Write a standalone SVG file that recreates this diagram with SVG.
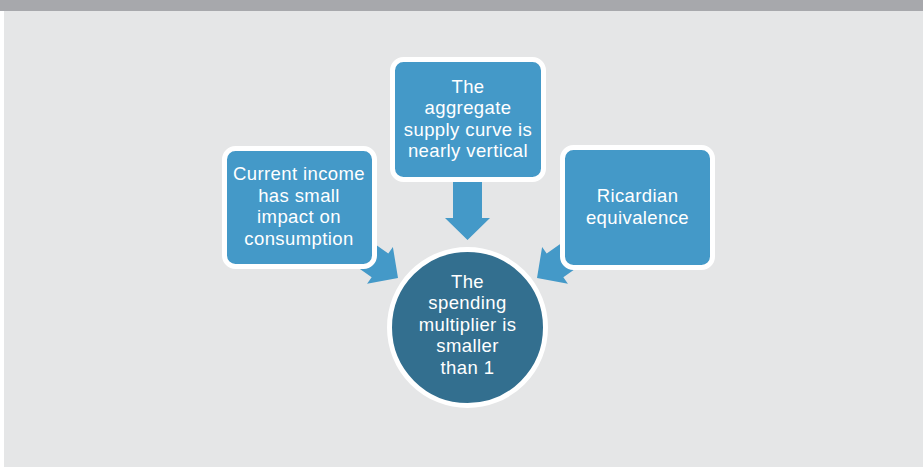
<svg xmlns="http://www.w3.org/2000/svg" width="923" height="467" viewBox="0 0 923 467">
<defs>
<style>
.box{fill:#4499c8;stroke:#ffffff;stroke-width:5}
.circ{fill:#336f8f;stroke:#ffffff;stroke-width:5}
.arrow{fill:#4499c8}
.t{font-family:"Liberation Sans",Arial,sans-serif;font-size:18.5px;letter-spacing:0.4px;fill:#ffffff;text-anchor:middle}
</style>
<path id="arr" d="M0,0 L-22.5,-22 L-14.5,-22 L-14.5,-58 L14.5,-58 L14.5,-22 L22.5,-22 Z"/>
</defs>
<rect x="0" y="0" width="923" height="467" fill="#ffffff"/>
<rect x="4" y="0" width="919" height="467" fill="#e5e6e7"/>
<rect x="0" y="0" width="923" height="11" fill="#a7a8ac"/>
<g id="connectors" class="arrow">
<use href="#arr" transform="translate(467.5,240)"/>
<use href="#arr" transform="translate(398,278) rotate(-55)"/>
<use href="#arr" transform="translate(537,278) rotate(55)"/>
</g>
<g id="node-left">
<rect class="box" x="224.5" y="148.5" width="150" height="118" rx="11"/>
<text class="t" x="299" y="180">Current income</text>
<text class="t" x="299" y="201.5">has small</text>
<text class="t" x="299" y="223">impact on</text>
<text class="t" x="299" y="244.5">consumption</text>
</g>
<g id="node-top">
<rect class="box" x="392.5" y="59.5" width="151" height="120" rx="11"/>
<text class="t" x="468" y="92.5">The</text>
<text class="t" x="468" y="114">aggregate</text>
<text class="t" x="468" y="135.5">supply curve is</text>
<text class="t" x="468" y="157">nearly vertical</text>
</g>
<g id="node-right">
<rect class="box" x="562.5" y="147.5" width="150" height="120" rx="11"/>
<text class="t" x="637.5" y="202">Ricardian</text>
<text class="t" x="637.5" y="223.5">equivalence</text>
</g>
<g id="node-center">
<circle class="circ" cx="467.5" cy="327.5" r="78"/>
<text class="t" x="467.5" y="287.5">The</text>
<text class="t" x="467.5" y="309">spending</text>
<text class="t" x="467.5" y="330.5">multiplier is</text>
<text class="t" x="467.5" y="352">smaller</text>
<text class="t" x="467.5" y="373.5">than 1</text>
</g>
</svg>
